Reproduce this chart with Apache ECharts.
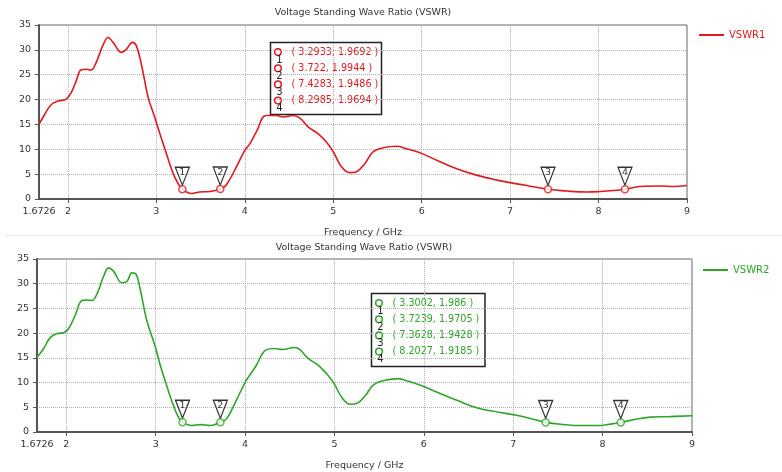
<!DOCTYPE html>
<html>
<head>
<meta charset="utf-8">
<script src="https://cdn.jsdelivr.net/npm/echarts@6/dist/echarts.min.js"></script>
<style>html,body{margin:0;padding:0;background:#fff}#c{width:782px;height:472px}</style>
</head>
<body>
<div id="c"></div>
<script>
// ---- data ----
const xTickLabels = [1.6726, 2, 3, 4, 5, 6, 7, 8, 9];
const xGridTicks = [2, 3, 4, 5, 6, 7, 8, 9];
const yTicks = [0, 5, 10, 15, 20, 25, 30, 35];

const freq1 = [1.6726, 1.74, 1.812, 1.888, 1.98, 2.04, 2.094, 2.15, 2.21, 2.26, 2.32, 2.40, 2.454, 2.51, 2.604, 2.66, 2.729, 2.774, 2.83, 2.906, 2.98, 3.04, 3.114, 3.19, 3.246, 3.2933, 3.397, 3.49, 3.604, 3.722, 3.79, 3.906, 4.0, 4.056, 4.13, 4.24, 4.36, 4.43, 4.545, 4.62, 4.716, 4.83, 4.92, 5.0, 5.093, 5.188, 5.264, 5.356, 5.45, 5.565, 5.716, 5.83, 5.98, 6.17, 6.396, 6.62, 6.85, 7.0, 7.19, 7.4283, 7.64, 7.87, 8.02, 8.17, 8.2985, 8.47, 8.70, 8.85, 9.0];
const vswr1 = [15.0, 17.1, 19.0, 19.7, 20.1, 21.5, 23.8, 26.0, 26.1, 25.9, 27.5, 31.1, 32.5, 31.5, 29.5, 30.1, 31.5, 30.8, 27.1, 20.5, 16.5, 13.1, 9.1, 5.1, 3.1, 1.9692, 1.1, 1.4, 1.5, 1.9944, 2.8, 6.5, 9.8, 11.1, 13.5, 16.8, 16.8, 16.5, 16.8, 16.3, 14.5, 13.1, 11.5, 9.5, 6.5, 5.3, 5.5, 7.1, 9.5, 10.3, 10.6, 10.1, 9.3, 7.8, 6.1, 4.8, 3.8, 3.3, 2.7, 1.9486, 1.6, 1.4, 1.5, 1.7, 1.9694, 2.5, 2.6, 2.5, 2.7];

const freq2 = [1.6726, 1.747, 1.82, 1.896, 1.97, 2.026, 2.1, 2.175, 2.23, 2.287, 2.343, 2.418, 2.473, 2.53, 2.622, 2.68, 2.734, 2.782, 2.827, 2.9, 2.995, 3.05, 3.125, 3.2, 3.255, 3.3002, 3.405, 3.497, 3.61, 3.7239, 3.795, 3.907, 4.0, 4.045, 4.12, 4.234, 4.33, 4.42, 4.555, 4.61, 4.706, 4.82, 4.913, 4.99, 5.083, 5.177, 5.253, 5.347, 5.44, 5.555, 5.706, 5.8, 5.97, 6.158, 6.385, 6.61, 6.838, 7.0, 7.16, 7.3628, 7.57, 7.77, 7.94, 8.09, 8.2027, 8.35, 8.535, 8.72, 9.0];
const vswr2 = [15.1, 16.9, 19.1, 19.9, 20.1, 20.9, 23.6, 26.6, 26.7, 26.6, 27.9, 31.5, 33.2, 32.5, 30.2, 30.5, 32.2, 31.9, 28.9, 22.6, 17.3, 13.6, 9.3, 5.3, 3.0, 1.986, 1.3, 1.5, 1.3, 1.9705, 2.7, 6.6, 10.0, 11.3, 13.3, 16.6, 16.9, 16.7, 17.1, 16.7, 14.9, 13.5, 11.8, 10.0, 7.0, 5.6, 5.8, 7.4, 9.6, 10.4, 10.8, 10.4, 9.4, 8.0, 6.3, 4.8, 4.0, 3.5, 2.9, 1.9428, 1.5, 1.3, 1.3, 1.6, 1.9185, 2.5, 3.0, 3.1, 3.3];

const markers1X = [3.2933, 3.722, 7.4283, 8.2985];
const markers1Y = [1.9692, 1.9944, 1.9486, 1.9694];
const markers2X = [3.3002, 3.7239, 7.3628, 8.2027];
const markers2Y = [1.986, 1.9705, 1.9428, 1.9185];

const titleText = 'Voltage Standing Wave Ratio (VSWR)';
const xName = 'Frequency / GHz';
const seriesNames = ['VSWR1', 'VSWR2'];

// ---- styles ----
const RED = '#e0191f';
const GREEN = '#2ea52a';
const FONT = 'DejaVu Sans';
const grids = [
  {left: 39, top: 25, width: 648, height: 174},
  {left: 37, top: 259, width: 655, height: 176}
];

function zip(a, b) { return a.map((v, i) => [v, b[i]]); }

function xAxisFor(i) {
  return {
    type: 'value', gridIndex: i, min: 1.6726, max: 9,
    name: xName, nameLocation: 'middle', nameGap: 29,
    nameTextStyle: {fontFamily: FONT, fontSize: 9.5, color: '#333'},
    axisLine: {show: true, lineStyle: {color: '#555', width: 2}},
    axisTick: {show: true, customValues: xGridTicks, length: 4, lineStyle: {color: '#555'}},
    axisLabel: {customValues: xTickLabels, fontFamily: FONT, fontSize: 9.5, color: '#333', margin: 8,
      formatter: v => String(v)},
    splitLine: {show: true, lineStyle: {color: '#b0b0b0', type: [1, 1], width: 1}}
  };
}
function yAxisFor(i) {
  return {
    type: 'value', gridIndex: i, min: 0, max: 35, interval: 5,
    axisLine: {show: true, lineStyle: {color: '#555', width: 2}},
    axisTick: {show: true, length: 4, lineStyle: {color: '#555'}},
    axisLabel: {fontFamily: FONT, fontSize: 9.5, color: '#333', margin: 8},
    splitLine: {show: true, lineStyle: {color: '#b0b0b0', type: [1, 1], width: 1}}
  };
}

function markerSeries(i, xs, ys, color) {
  const data = zip(xs, ys);
  return [
    {
      type: 'scatter', xAxisIndex: i, yAxisIndex: i, data: data, z: 4,
      symbol: 'path://M0,0 L14,0 L7,18 Z', symbolSize: [14, 18], symbolOffset: [0, -13],
      itemStyle: {color: '#fff', borderColor: '#000', borderWidth: 1.3},
      label: {show: true, position: 'inside', offset: [0, -4], fontFamily: FONT, fontSize: 9.5, color: '#000',
        formatter: p => String(p.dataIndex + 1)},
      silent: true
    },
    {
      type: 'scatter', xAxisIndex: i, yAxisIndex: i, data: data, z: 5,
      symbol: 'circle', symbolSize: 7,
      itemStyle: {color: '#fff', borderColor: color, borderWidth: 1.5},
      silent: true
    }
  ];
}

function boxGraphic(x, y, w, h, xs, ys, color) {
  const children = [{type: 'rect', shape: {x: 0, y: 0, width: w, height: h},
    style: {fill: '#fff', stroke: '#222', lineWidth: 1.5}}];
  const rowStart = 9.5, rowGap = 16.2;
  xs.forEach((v, k) => {
    const cy = rowStart + k * rowGap;
    children.push({type: 'circle', shape: {cx: 7.5, cy: cy, r: 3.3},
      style: {fill: 'none', stroke: color, lineWidth: 1.5}});
    children.push({type: 'text', x: 9, y: cy + 8,
      style: {text: String(k + 1), fill: '#222', font: '10px ' + FONT, align: 'center', verticalAlign: 'middle'}});
    children.push({type: 'text', x: 21, y: cy,
      style: {text: '( ' + v + ', ' + ys[k] + ' )', fill: color, font: '9.6px ' + FONT, align: 'left', verticalAlign: 'middle'}});
  });
  return {type: 'group', x: x, y: y, z: 10, children: children};
}

const chart = echarts.init(document.getElementById('c'), null, {renderer: 'canvas'});
chart.setOption({
  animation: false,
  backgroundColor: '#fff',
  grid: grids.map(g => Object.assign({show: true, borderColor: '#666', borderWidth: 1, backgroundColor: 'transparent'}, g)),
  xAxis: [xAxisFor(0), xAxisFor(1)],
  yAxis: [yAxisFor(0), yAxisFor(1)],
  legend: [
    {left: 699, top: 30, data: [{name: seriesNames[0], textStyle: {color: RED}}], icon: 'rect',
      itemWidth: 25, itemHeight: 2, itemGap: 5, padding: 0,
      textStyle: {fontFamily: FONT, fontSize: 10}},
    {left: 703, top: 265, data: [{name: seriesNames[1], textStyle: {color: GREEN}}], icon: 'rect',
      itemWidth: 25, itemHeight: 2, itemGap: 5, padding: 0,
      textStyle: {fontFamily: FONT, fontSize: 10}}
  ],
  graphic: [
    {type: 'line', shape: {x1: 5, y1: 235.5, x2: 782, y2: 235.5}, style: {stroke: '#e4e4e4', lineWidth: 1}},
    {type: 'text', x: 363, y: 13, style: {text: titleText, font: '9.5px ' + FONT, fill: '#333', align: 'center', verticalAlign: 'middle'}},
    {type: 'text', x: 364, y: 248, style: {text: titleText, font: '9.5px ' + FONT, fill: '#333', align: 'center', verticalAlign: 'middle'}},
    boxGraphic(270.5, 42.5, 111, 72, markers1X, markers1Y, RED),
    boxGraphic(371.5, 293.5, 113.5, 73, markers2X, markers2Y, GREEN)
  ],
  series: [
    {name: seriesNames[0], type: 'line', xAxisIndex: 0, yAxisIndex: 0, data: zip(freq1, vswr1),
      smooth: 0.4, showSymbol: false, lineStyle: {color: RED, width: 1.6}, itemStyle: {color: RED}, z: 3},
    {name: seriesNames[1], type: 'line', xAxisIndex: 1, yAxisIndex: 1, data: zip(freq2, vswr2),
      smooth: 0.4, showSymbol: false, lineStyle: {color: GREEN, width: 1.6}, itemStyle: {color: GREEN}, z: 3},
    ...markerSeries(0, markers1X, markers1Y, RED),
    ...markerSeries(1, markers2X, markers2Y, GREEN)
  ]
});
</script>
</body>
</html>
